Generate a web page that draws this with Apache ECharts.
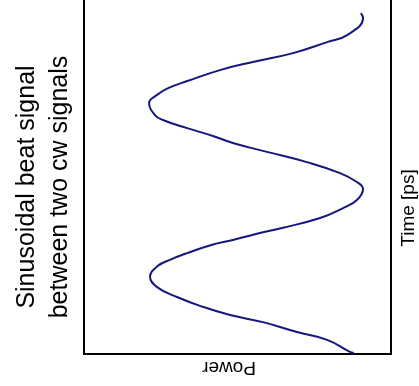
<!DOCTYPE html>
<html>
<head>
<meta charset="utf-8">
<script src="https://cdn.jsdelivr.net/npm/echarts@6/dist/echarts.min.js"></script>
<style>
html,body{margin:0;padding:0;background:#fff;}
#chart{width:419px;height:386px;}
</style>
</head>
<body>
<div id="chart"></div>
<script>
// Data (arbitrary units): power on horizontal axis, time on vertical axis
var powerValues = [0.879,0.866,0.792,0.694,0.583,0.476,0.378,0.303,0.238,0.215,0.241,0.280,0.336,0.415,0.485,0.560,0.645,0.769,0.844,0.889,0.909,0.889,0.834,0.726,0.596,0.485,0.420,0.336,0.257,0.231,0.212,0.238,0.274,0.336,0.443,0.550,0.681,0.792,0.857,0.909,0.902];
var timeValues  = [0.03,0.06,0.40,0.62,0.90,1.10,1.36,1.61,1.89,2.18,2.49,2.66,2.85,3.08,3.22,3.39,3.56,3.84,4.12,4.35,4.66,4.86,5.11,5.42,5.71,5.96,6.16,6.38,6.61,6.75,7.09,7.32,7.51,7.71,8.02,8.25,8.50,8.81,9.01,9.49,9.63];
var titleLines = ['Sinusoidal beat signal', 'between two cw signals'];
var xName = 'Power';
var yName = 'Time [ps]';

var seriesData = powerValues.map(function(p, i){ return [p, timeValues[i]]; });
var FONT = '"Liberation Sans", Arial, Helvetica, sans-serif';

var chart = echarts.init(document.getElementById('chart'), null, {renderer:'canvas'});
var axisLine = {show:true, lineStyle:{color:'#000', width:2}};
chart.setOption({
  animation:false,
  backgroundColor:'#fff',
  grid:{left:84, right:28, top:0, bottom:32},
  xAxis:{type:'value', min:0, max:1, axisLine:axisLine, axisTick:{show:false}, axisLabel:{show:false}, splitLine:{show:false}},
  yAxis:[
    {type:'value', min:0, max:10, position:'left', axisLine:axisLine, axisTick:{show:false}, axisLabel:{show:false}, splitLine:{show:false}},
    {type:'value', min:0, max:10, position:'right', axisLine:axisLine, axisTick:{show:false}, axisLabel:{show:false}, splitLine:{show:false}}
  ],
  series:[{
    type:'line', data:seriesData, showSymbol:false, smooth:0.45,
    lineStyle:{color:'#16167f', width:2}, clip:true
  }],
  graphic:[
    {type:'text', x:44, y:187, rotation:Math.PI/2,
     style:{text:titleLines.join('\n'), fontSize:25, lineHeight:33, fontFamily:FONT, fill:'#000', align:'center', verticalAlign:'middle'}},
    {type:'text', x:229, y:367, rotation:Math.PI,
     style:{text:xName, fontSize:19, fontFamily:FONT, fill:'#000', align:'center', verticalAlign:'middle'}},
    {type:'text', x:409, y:208, rotation:Math.PI/2,
     style:{text:yName, fontSize:19, fontFamily:FONT, fill:'#000', align:'center', verticalAlign:'middle'}}
  ]
});
</script>
</body>
</html>
